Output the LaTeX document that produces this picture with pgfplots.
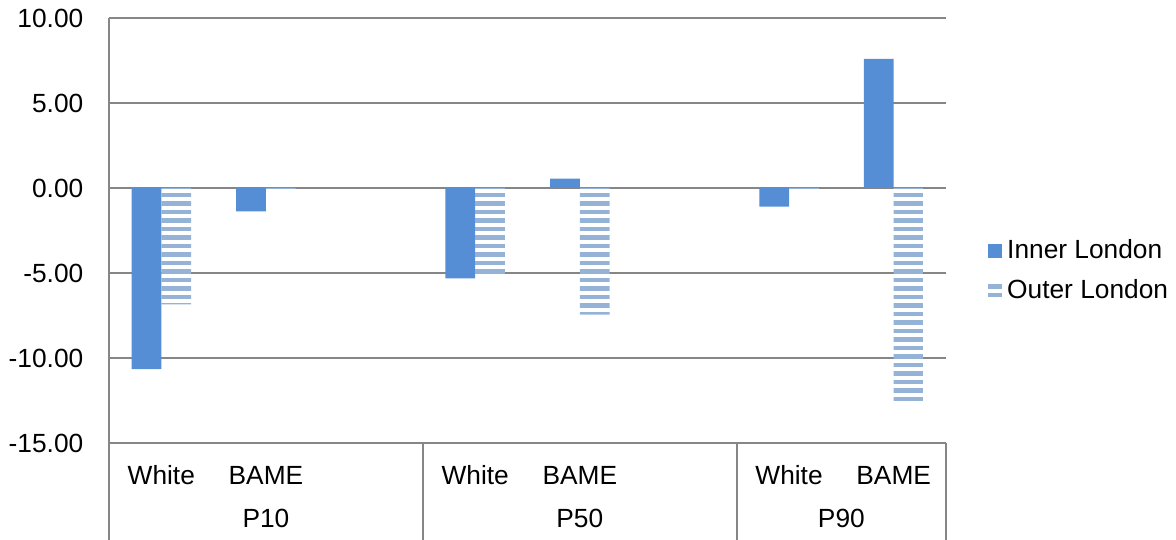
\documentclass[border=0pt]{standalone}
\usepackage{fontspec}
\setmainfont{Liberation Sans}
\usepackage{pgfplots}
\pgfplotsset{compat=1.18}
\definecolor{innerc}{HTML}{558ED5}
\definecolor{outerc}{HTML}{95B3D7}
\definecolor{gridc}{HTML}{868686}
\newcommand{\bigf}{\fontsize{26.3pt}{31pt}\selectfont}
\tikzset{hstripes/.style={path picture={%
  \pgfpointanchor{path picture bounding box}{north east}\pgfgetlastxy{\xa}{\ya}%
  \pgfpointanchor{path picture bounding box}{south west}\pgfgetlastxy{\xb}{\yb}%
  \foreach \k in {0,...,40}{%
    \pgfsetfillcolor{outerc}%
    \pgfpathrectangle{\pgfpoint{\xb}{\ya+3.5pt-\k*8.5pt}}{\pgfpoint{\xa-\xb}{-4.3pt}}%
    \pgfusepath{fill}}}}}
\begin{document}
\bigf
\begin{tikzpicture}[x=1pt,y=1pt]
\useasboundingbox (0,0) rectangle (1176,540);
\begin{axis}[
  at={(109pt,97pt)}, anchor=south west,
  scale only axis, width=837pt, height=425pt,
  xmin=-0.5, xmax=7.5, ymin=-15, ymax=10,
  ytick={-15,-10,-5,0,5,10},
  xtick={0,1,3,4,6,7},
  xticklabels={White,BAME,White,BAME,White,BAME},
  major tick length=0pt,
  axis line style={draw=none},
  ymajorgrids, grid style={gridc, line width=1.5pt},
  yticklabel style={anchor=east, inner sep=0pt, xshift=-25.5pt, font=\bigf,
    /pgf/number format/.cd, fixed, fixed zerofill, precision=2, assume math mode=true},
  xticklabel style={anchor=center, inner sep=0pt, yshift=-32pt, font=\bigf},
  ybar, bar width=29.7pt,
  clip=false,
  legend style={at={(axis description cs:1.0502,0.405)}, anchor=west, draw=none, fill=none,
    inner sep=0pt, font=\bigf, row sep=17pt, column sep=5pt,
    nodes={inner sep=0pt}},
  legend cell align=left,
]
\addplot[fill=innerc, draw=none, bar shift=-14.85pt,
  legend image code/.code={\fill[innerc] (0pt,-7pt) rectangle (14pt,7pt);}]
  coordinates {(0,-10.65) (1,-1.37) (3,-5.31) (4,0.55) (6,-1.1) (7,7.6)};
\addlegendentry{Inner London}
\addplot[draw=none, fill=none, hstripes, bar shift=14.85pt,
  legend image code/.code={\fill[outerc] (0pt,-6.5pt) rectangle (14pt,-2.2pt);
                           \fill[outerc] (0pt,2pt) rectangle (14pt,6.3pt);}]
  coordinates {(0,-6.85) (1,-0.06) (3,-5.1) (4,-7.45) (6,-0.06) (7,-12.56)};
\addlegendentry{Outer London}
\draw[gridc, line width=1.5pt] (axis cs:-0.5,10) -- (axis cs:-0.5,-15) -- ++(0pt,-97pt);
\draw[gridc, line width=1.5pt] (axis cs:2.5,-15) -- ++(0pt,-97pt);
\draw[gridc, line width=1.5pt] (axis cs:5.5,-15) -- ++(0pt,-97pt);
\draw[gridc, line width=1.5pt] (axis cs:7.5,-15) -- ++(0pt,-97pt);
\node[font=\bigf, inner sep=0pt] at (axis cs:1,-15) [yshift=-75pt] {P10};
\node[font=\bigf, inner sep=0pt] at (axis cs:4,-15) [yshift=-75pt] {P50};
\node[font=\bigf, inner sep=0pt] at (axis cs:6.5,-15) [yshift=-75pt] {P90};
\end{axis}
\end{tikzpicture}
\end{document}
